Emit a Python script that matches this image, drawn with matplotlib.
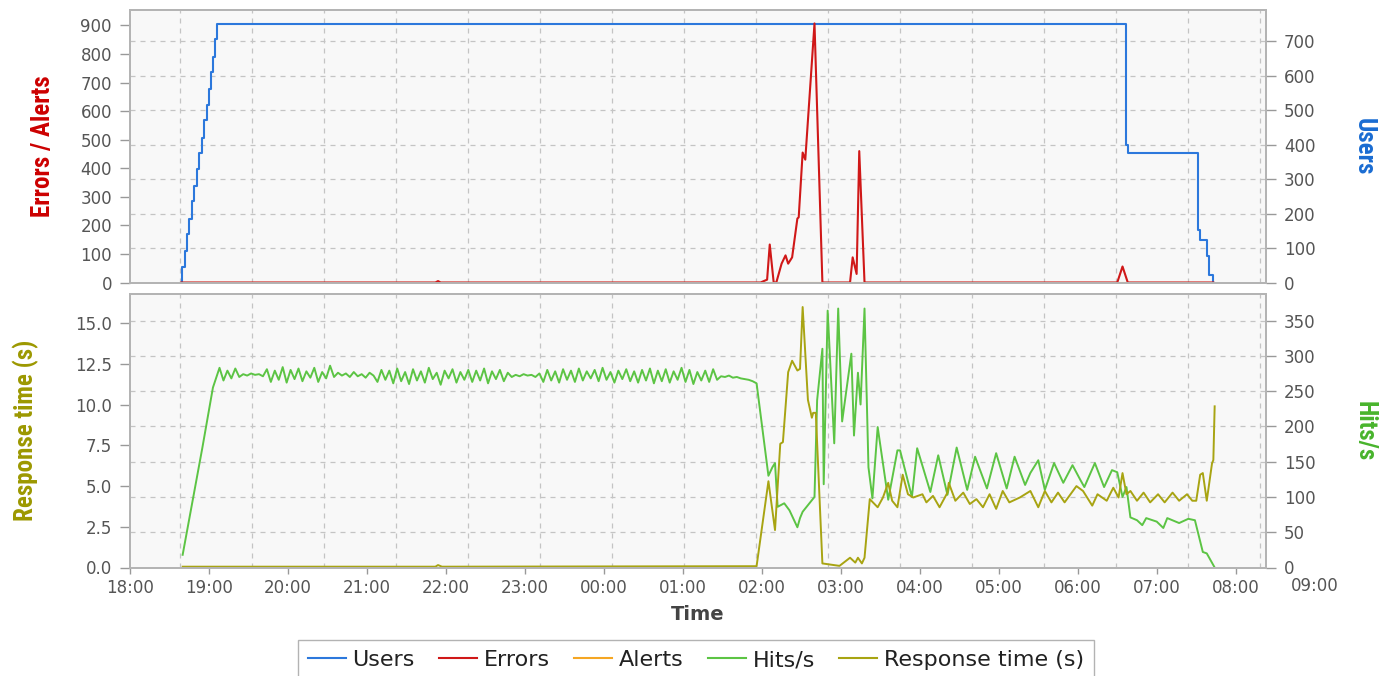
import numpy as np
import matplotlib.pyplot as plt
from matplotlib import font_manager
from matplotlib.ticker import FixedLocator, MultipleLocator, FormatStrFormatter
from matplotlib.transforms import blended_transform_factory

# all times are minutes after 18:00
hour_labels = ["18:00", "19:00", "20:00", "21:00", "22:00", "23:00", "00:00", "01:00",
               "02:00", "03:00", "04:00", "05:00", "06:00", "07:00", "08:00"]

# Users (step line, right axis of top panel)
users_min = [39, 39.5, 41.8, 43.3, 44.8, 47.1, 48.6, 50.9, 52.4, 54.7, 56.2, 58.5,
             60.0, 61.5, 63.0, 64.6, 66.1, 756.5, 758.5, 811.0, 812.6, 818.0, 819.5, 822.6]
users_val = [0, 45, 90, 140, 185, 235, 280, 330, 375, 420, 470, 515,
             560, 610, 655, 705, 750, 400, 375, 153, 124, 78, 23, 0]

# Errors / Alerts (left axis of top panel)
err_min = [39, 232, 234, 236, 479, 484, 486, 489, 491, 495, 498, 500, 503, 507,
           508, 511, 513, 520, 526, 547, 549, 552, 554, 558, 750, 754, 758, 823]
err_val = [0, 0, 5, 0, 0, 10, 133, 0, 0, 66, 95, 66, 88, 224,
           228, 455, 430, 907, 0, 0, 88, 30, 460, 0, 0, 56, 0, 0]
alert_min = [39, 823]
alert_val = [0, 0]

# Hits/s (right axis of bottom panel)
hits_ramp_min = [40, 55, 63]
hits_ramp_val = [18, 170, 255]
hits_flat_min = np.arange(68, 474, 3)
hits_flat_val = [283, 265, 279, 268, 282, 270, 274, 272, 275, 273,
                 274, 271, 281, 263, 279, 266, 284, 262, 280, 267,
                 282, 264, 278, 269, 283, 263, 277, 268, 286, 270,
                 276, 272, 275, 270, 277, 271, 274, 269, 276, 272,
                 263, 280, 266, 279, 261, 282, 264, 277, 260, 281,
                 265, 278, 262, 283, 267, 276, 259, 279, 268, 281,
                 262, 277, 266, 280, 263, 279, 265, 282, 261, 278,
                 267, 280, 264, 276, 270, 273, 271, 274, 272, 273,
                 270, 275, 263, 280, 265, 278, 262, 281, 266, 279,
                 263, 282, 265, 278, 268, 280, 264, 283, 266, 277,
                 262, 279, 267, 281, 264, 278, 262, 280, 265, 282,
                 261, 279, 264, 281, 262, 278, 266, 283, 263, 280,
                 260, 277, 265, 279, 263, 281, 266, 271, 270, 272,
                 269, 270, 268, 267, 266, 264]
hits_late_min = [475, 476, 485, 488, 490, 492, 497, 501, 507, 509,
                 511, 520, 522, 526, 527, 530, 535, 538, 541, 548,
                 550, 553, 555, 558, 561, 564, 568, 576, 583, 585,
                 594, 598, 608, 614, 621, 628, 636, 642, 651, 658,
                 666, 672, 680, 684, 690, 695, 702, 709, 716, 722,
                 725, 733, 740, 746, 750, 754, 757, 760, 765, 769,
                 772, 780, 785, 788, 797, 804, 809, 815, 818, 824]
hits_late_val = [262, 261, 130, 142, 148, 86, 91, 81, 57, 70,
                 79, 100, 237, 310, 118, 364, 176, 367, 207, 303,
                 187, 276, 231, 367, 142, 98, 199, 96, 166, 166,
                 100, 169, 107, 159, 103, 170, 110, 157, 112, 162,
                 112, 157, 117, 134, 152, 110, 148, 120, 145, 124,
                 114, 148, 114, 138, 135, 100, 114, 71, 67, 60,
                 70, 65, 56, 70, 63, 69, 67, 22, 20, 0]

# Response time (left axis of bottom panel)
resp_min = [40, 232, 234, 237, 476, 485, 490, 494, 496, 500,
            503, 507, 509, 511, 515, 518, 519, 521, 526, 539,
            547, 551, 553, 556, 558, 562, 568, 572, 576, 579,
            583, 587, 591, 595, 602, 605, 610, 615, 621, 622,
            627, 633, 638, 643, 648, 653, 658, 663, 668, 676,
            684, 690, 695, 700, 705, 710, 719, 724, 731, 735,
            742, 747, 751, 754, 757, 760, 765, 770, 775, 781,
            786, 792, 797, 803, 807, 810, 813, 815, 818, 822,
            823, 824]
resp_val = [0.05, 0.05, 0.15, 0.05, 0.08, 5.3, 2.3, 7.6, 7.7, 12.0,
            12.7, 12.1, 12.2, 16.0, 10.3, 9.2, 9.5, 9.5, 0.25, 0.1,
            0.6, 0.3, 0.6, 0.25, 0.6, 4.2, 3.7, 4.3, 5.2, 4.1,
            3.7, 5.7, 4.5, 4.3, 4.5, 4.0, 4.4, 3.7, 4.6, 5.2,
            4.1, 4.6, 3.9, 4.2, 3.7, 4.5, 3.6, 4.7, 4.0, 4.3,
            4.7, 3.7, 4.7, 4.0, 4.6, 4.0, 5.0, 4.7, 3.8, 4.5,
            4.1, 4.9, 4.3, 5.8, 4.5, 4.7, 4.1, 4.6, 4.0, 4.5,
            4.0, 4.6, 4.1, 4.5, 4.1, 4.1, 5.7, 5.8, 4.1, 6.4,
            6.6, 9.9]

hits_min = list(hits_ramp_min) + list(hits_flat_min) + hits_late_min
hits_val = hits_ramp_val + hits_flat_val + hits_late_val

C_USERS = "#2c78dc"
C_ERR = "#d01818"
C_ALERT = "#f5a623"
C_HITS = "#5cc444"
C_RESP = "#a8a412"
GRID = "#c4c4c4"
TXT = "#555555"

# axis titles in the original are a narrow bold face; use one if there is one
installed = {f.name for f in font_manager.fontManager.ttflist}
narrow = [n for n in ["Liberation Sans Narrow", "Arial Narrow", "Roboto Condensed",
                      "DejaVu Sans Condensed"] if n in installed]
if narrow:
    LABEL_FONT = [narrow[0], "DejaVu Sans"]
    LABEL_SIZE = 18
else:
    LABEL_FONT = ["Liberation Sans", "DejaVu Sans"]
    LABEL_SIZE = 15

W, H = 1379, 676
fig = plt.figure(figsize=(W / 100, H / 100), dpi=100)
ax_u = fig.add_axes([130 / W, 1 - 282.5 / H, 1136 / W, 272.5 / H])
ax_h = fig.add_axes([130 / W, 1 - 567.5 / H, 1136 / W, 273.5 / H], sharex=ax_u)
ax_e = ax_u.twinx()
ax_r = ax_h.twinx()

# main axes carry the right-hand scale (and the grid), twins the left one
for main, twin in [(ax_u, ax_e), (ax_h, ax_r)]:
    main.yaxis.tick_right()
    main.yaxis.set_label_position("right")
    twin.yaxis.tick_left()
    twin.yaxis.set_label_position("left")
    main.set_facecolor("#f8f8f8")
    for a in (main, twin):
        for s in a.spines.values():
            s.set_color("#b4b4b4")
            s.set_linewidth(1.4)
        a.tick_params(axis="y", colors="#999999", labelcolor=TXT, labelsize=12,
                      length=7, width=1, pad=6)

ax_u.step(users_min, users_val, where="post", color=C_USERS, lw=1.5)
ax_e.plot(alert_min, alert_val, color=C_ALERT, lw=1.5)
ax_e.plot(err_min, err_val, color=C_ERR, lw=1.5)
ax_h.plot(hits_min, hits_val, color=C_HITS, lw=1.4)
ax_r.plot(resp_min, resp_val, color=C_RESP, lw=1.4)

ax_u.set_xlim(0, 863)
ax_u.set_ylim(0, 790)
ax_e.set_ylim(0, 954)
ax_h.set_ylim(0, 387.6)
ax_r.set_ylim(0, 16.8)

ax_u.yaxis.set_major_locator(MultipleLocator(100))
ax_e.yaxis.set_major_locator(MultipleLocator(100))
ax_h.yaxis.set_major_locator(MultipleLocator(50))
ax_r.yaxis.set_major_locator(MultipleLocator(2.5))
ax_r.yaxis.set_major_formatter(FormatStrFormatter("%.1f"))

# x axis: hour ticks labelled, grid lines on their own spacing
hour_pos = [60 * i for i in range(len(hour_labels))]
grid_pos = [38 + 54.7 * k for k in range(16)]
ax_h.set_xticks(hour_pos)
ax_h.set_xticklabels(hour_labels)
ax_h.xaxis.set_minor_locator(FixedLocator(grid_pos))
ax_h.tick_params(axis="x", which="major", colors="#999999", labelcolor=TXT,
                 labelsize=12, length=4, width=1, pad=4)
ax_h.tick_params(axis="x", which="minor", length=0)
ax_u.tick_params(axis="x", which="both", length=0, labelbottom=False)

for a in (ax_u, ax_h):
    a.grid(axis="y", which="major", color=GRID, ls=(0, (4, 4)), lw=0.9)
    a.grid(axis="x", which="minor", color=GRID, ls=(0, (4, 4)), lw=0.9)
    a.grid(axis="x", which="major", visible=False)

# stray 09:00 label drawn past the right edge
trans = blended_transform_factory(ax_h.transData, ax_h.transAxes)
ax_h.text(900, -(577 - 567.5) / 273.5, "09:00", transform=trans, ha="center", va="top",
          fontsize=12, color=TXT, clip_on=False)

ax_e.set_ylabel("Errors / Alerts", color="#cc0000", fontsize=LABEL_SIZE, fontweight="bold",
                family=LABEL_FONT, va="center")
ax_e.yaxis.set_label_coords((43 - 130) / 1136, 0.5)
ax_u.set_ylabel("Users", color="#1a6cd2", fontsize=LABEL_SIZE, fontweight="bold",
                family=LABEL_FONT, rotation=270, va="center")
ax_u.yaxis.set_label_coords((1364 - 130) / 1136, 0.5)
ax_r.set_ylabel("Response time (s)", color="#9c9800", fontsize=LABEL_SIZE, fontweight="bold",
                family=LABEL_FONT, va="center")
ax_r.yaxis.set_label_coords((26 - 130) / 1136, 0.5)
ax_h.set_ylabel("Hits/s", color="#48b42c", fontsize=LABEL_SIZE, fontweight="bold",
                family=LABEL_FONT, rotation=270, va="center")
ax_h.yaxis.set_label_coords((1365 - 130) / 1136, 0.5)

ax_h.set_xlabel("Time", fontsize=14, fontweight="bold", color="#444444")
ax_h.xaxis.set_label_coords(0.5, -(605 - 567.5) / 273.5)

handles = [plt.Line2D([], [], color=c, lw=1.5) for c in (C_USERS, C_ERR, C_ALERT, C_HITS, C_RESP)]
names = ["Users", "Errors", "Alerts", "Hits/s", "Response time (s)"]
leg = fig.legend(handles, names, loc="upper center", bbox_to_anchor=(696 / W, 1 - 640 / H),
                 ncol=5, fontsize=16, frameon=True, fancybox=False, edgecolor="#a0a0a0",
                 handlelength=1.7, handletextpad=0.3, columnspacing=1.1, borderpad=0.45,
                 borderaxespad=0)
leg.get_frame().set_linewidth(1.0)
for t in leg.get_texts():
    t.set_color("#222222")

fig.savefig("out.png", dpi=100, facecolor="white")
